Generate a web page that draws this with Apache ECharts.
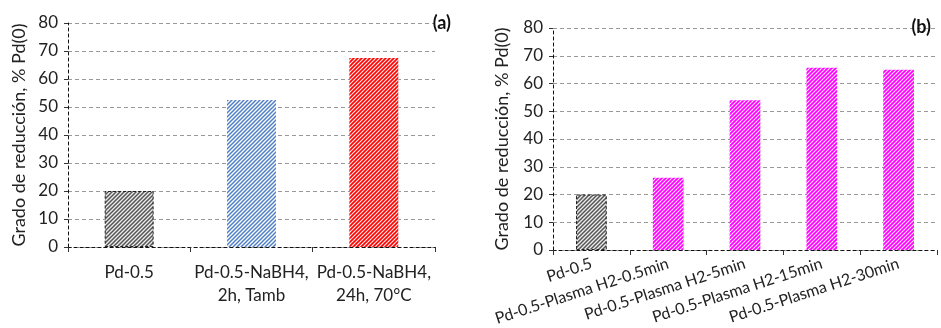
<!DOCTYPE html>
<html>
<head>
<meta charset="utf-8">
<script src="https://cdn.jsdelivr.net/npm/echarts@6/dist/echarts.min.js"></script>
<style>
html,body{margin:0;padding:0;background:#fff;}
#chart{width:941px;height:328px;}
</style>
</head>
<body>
<div id="chart"></div>
<script>
// ---- data ----
const catsA = ['Pd-0.5', 'Pd-0.5-NaBH4,\n2h, Tamb', 'Pd-0.5-NaBH4,\n24h, 70°C'];
const valsA = [20, 52.5, 67.5];
const catsB = ['Pd-0.5', 'Pd-0.5-Plasma H2-0.5min', 'Pd-0.5-Plasma H2-5min', 'Pd-0.5-Plasma H2-15min', 'Pd-0.5-Plasma H2-30min'];
const valsB = [20, 26, 54, 65.7, 65];
const yTicks = [0, 10, 20, 30, 40, 50, 60, 70, 80];
const yName = 'Grado de reducción, % Pd(0)';

function hatch(color, bg, lw) {
  const s = 4;
  const c = document.createElement('canvas');
  c.width = s; c.height = s;
  const g = c.getContext('2d');
  g.fillStyle = bg; g.fillRect(0, 0, s, s);
  g.strokeStyle = color; g.lineWidth = lw;
  g.beginPath();
  for (let k = -1; k <= 1; k++) {
    g.moveTo(k * s - 1, s + 1);
    g.lineTo(k * s + s + 1, -1);
  }
  g.stroke();
  return { image: c, repeat: 'repeat' };
}
const pGray = hatch('#555555', '#ececec', 1.5);
const pBlue = hatch('#4f7fc6', '#ffffff', 1.5);
const pRed = hatch('#ff0000', '#ffe6e6', 1.6);
const pMag = hatch('#ff00ff', '#fff0ff', 1.9);

const font = 'Lato';
const axisTxt = { color: '#222', fontFamily: font, fontSize: 17 };
const dash = { color: '#111', type: [3, 3], width: 1 };

function yAxis(gi) {
  return {
    gridIndex: gi, type: 'value', min: yTicks[0], max: yTicks[yTicks.length - 1], interval: 10,
    name: yName, nameLocation: 'middle', nameGap: gi === 0 ? 40 : 42,
    nameTextStyle: { color: '#222', fontFamily: font, fontSize: 18 },
    axisLine: { show: true, lineStyle: dash },
    axisTick: { show: true, inside: false, length: 4, lineStyle: { color: '#333' } },
    axisLabel: Object.assign({}, axisTxt, { margin: 10, fontSize: 17 }),
    splitLine: { show: true, lineStyle: { color: '#999', type: [4, 3], width: 1 } }
  };
}

const option = {
  animation: false,
  backgroundColor: '#fff',
  grid: [
    { left: 68, right: 941 - 435, top: 23, bottom: 328 - 247, containLabel: false, outerBoundsMode: 'none' },
    { left: 553, right: 4, top: 28, bottom: 328 - 250, containLabel: false, outerBoundsMode: 'none' }
  ],
  title: [
    { text: '(a)', right: 941 - 456, top: 9, textStyle: { fontFamily: font, fontSize: 18, fontWeight: 'bold', color: '#111' } },
    { text: '(b)', right: 5, top: 13, textStyle: { fontFamily: font, fontSize: 18, fontWeight: 'bold', color: '#111' } }
  ],
  xAxis: [
    {
      gridIndex: 0, type: 'category', data: catsA, boundaryGap: true,
      axisLine: { show: true, onZero: false, lineStyle: dash },
      axisTick: { show: true, length: 5, alignWithLabel: false, lineStyle: { color: '#333' } },
      axisLabel: Object.assign({ interval: 0, margin: 14, lineHeight: 23 }, axisTxt),
      splitLine: { show: false }
    },
    {
      gridIndex: 1, type: 'category', data: catsB, boundaryGap: true,
      axisLine: { show: true, onZero: false, lineStyle: dash },
      axisTick: { show: true, length: 5, lineStyle: { color: '#333' } },
      axisLabel: Object.assign({}, axisTxt, { interval: 0, margin: 13, rotate: 18, fontSize: 16 }),
      splitLine: { show: false }
    }
  ],
  yAxis: [yAxis(0), yAxis(1)],
  series: [
    {
      type: 'bar', xAxisIndex: 0, yAxisIndex: 0, barWidth: '40%',
      data: valsA.map((v, i) => ({
        value: v,
        itemStyle: i === 0
          ? { color: pGray, borderColor: '#222', borderWidth: 1, borderType: [3, 2] }
          : { color: i === 1 ? pBlue : pRed }
      }))
    },
    {
      type: 'bar', xAxisIndex: 1, yAxisIndex: 1, barWidth: '40%',
      data: valsB.map((v, i) => ({
        value: v,
        itemStyle: i === 0
          ? { color: pGray, borderColor: '#222', borderWidth: 1, borderType: [3, 2] }
          : { color: pMag }
      }))
    }
  ]
};
const chart = echarts.init(document.getElementById('chart'), null, { renderer: 'canvas' });
chart.setOption(option);
</script>
</body>
</html>
